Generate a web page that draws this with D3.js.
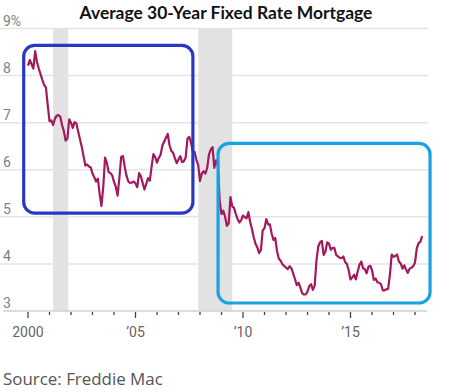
<!DOCTYPE html>
<html><head><meta charset="utf-8">
<script src="https://cdn.jsdelivr.net/npm/d3@7"></script>
<style>html,body{margin:0;padding:0;background:#fff;}svg{display:block;}</style>
</head><body><svg id="c" width="450" height="392"></svg>
<script>
const title = "Average 30-Year Fixed Rate Mortgage";
const source = "Source: Freddie Mac";
const startYear = 2000;
// Monthly average 30-year fixed rate (%), Jan 2000 – May 2018
const rates = [
 8.21,8.33,8.24,8.15,8.52,8.29,8.15,8.03,7.91,7.80,7.75,7.38,
 7.03,7.05,6.95,7.08,7.15,7.16,7.13,6.95,6.82,6.62,6.66,7.07,
 7.00,6.89,7.01,6.99,6.81,6.65,6.49,6.29,6.09,6.11,6.07,6.05,
 5.92,5.84,5.75,5.81,5.48,5.23,5.63,6.26,6.15,5.95,5.93,5.88,
 5.74,5.64,5.45,5.83,6.27,6.29,6.06,5.87,5.75,5.72,5.73,5.75,
 5.71,5.63,5.93,5.86,5.72,5.58,5.70,5.82,5.77,6.07,6.33,6.27,
 6.15,6.25,6.32,6.51,6.60,6.68,6.76,6.52,6.40,6.36,6.24,6.14,
 6.22,6.29,6.16,6.18,6.26,6.66,6.70,6.57,6.38,6.38,6.21,6.10,
 5.76,5.92,5.97,5.92,6.04,6.32,6.43,6.48,6.04,6.20,6.09,5.33,
 5.06,5.13,5.00,4.81,4.86,5.42,5.22,5.19,5.06,4.95,4.88,4.93,
 5.03,4.99,4.97,5.10,4.89,4.74,4.56,4.43,4.35,4.23,4.30,4.71,
 4.76,4.95,4.84,4.84,4.64,4.51,4.55,4.27,4.11,4.07,3.99,3.96,
 3.92,3.89,3.95,3.91,3.80,3.68,3.55,3.60,3.50,3.38,3.35,3.35,
 3.41,3.53,3.57,3.45,3.54,4.07,4.37,4.46,4.49,4.19,4.26,4.46,
 4.43,4.30,4.34,4.34,4.19,4.16,4.13,4.12,4.16,4.04,4.00,3.86,
 3.67,3.71,3.77,3.67,3.84,3.98,4.05,3.91,3.89,3.80,3.94,3.96,
 3.87,3.66,3.69,3.61,3.60,3.57,3.44,3.44,3.46,3.47,3.77,4.20,
 4.15,4.17,4.20,4.05,4.01,3.90,3.97,3.88,3.81,3.90,3.92,3.95,
 4.03,4.33,4.44,4.47,4.59
];
const yTicks = [3,4,5,6,7,8,9];
const yTickLabels = ["3","4","5","6","7","8","9%"];
const majorYears = [2000,2005,2010,2015];
const majorLabels = ["2000","\u201905","\u201910","\u201915"];
const minorYears = d3.range(2000,2019);
const recessions = [[2001.17,2001.87],[2007.92,2009.5]];
// highlight boxes: [x0, x1, yTop, yBottom] in data units
const highlightOld = [1999.8, 2007.67, 8.64, 5.08];
const highlightNew = [2008.84, 2018.7, 6.56, 3.17];

const svg = d3.select("#c");
const x = d3.scaleLinear().domain([2000,2018]).range([28,415]);
const y = d3.scaleLinear().domain([3,9]).range([311,28.5]);

// recession shading
svg.selectAll("rect.rec").data(recessions).join("rect")
  .attr("x",d=>x(d[0])).attr("width",d=>x(d[1])-x(d[0]))
  .attr("y",y(9)).attr("height",y(3)-y(9)).attr("fill","#e2e2e2");

// gridlines
svg.selectAll("line.grid").data(yTicks.filter(t=>t>3)).join("line")
  .attr("x1",0).attr("x2",428).attr("y1",d=>y(d)).attr("y2",d=>y(d))
  .attr("stroke","#e4e4e4").attr("stroke-width",1.5);
// baseline
svg.append("line").attr("x1",3).attr("x2",427).attr("y1",y(3)).attr("y2",y(3))
  .attr("stroke","#d0d0d0").attr("stroke-width",1.5);

// y labels
svg.selectAll("text.yl").data(yTicks).join("text")
  .attr("x",3).attr("y",d=>y(d)-3).text((d,i)=>yTickLabels[i])
  .attr("font-family","Roboto, sans-serif").attr("font-size",14).attr("fill","#808080");

// ticks
svg.selectAll("line.minor").data(minorYears).join("line")
  .attr("x1",d=>x(d)).attr("x2",d=>x(d)).attr("y1",y(3)+1).attr("y2",d=>majorYears.includes(d)?y(3)+7:y(3)+4)
  .attr("stroke","#444").attr("stroke-width",1.3);
svg.selectAll("text.xl").data(majorYears).join("text")
  .attr("x",d=>x(d)).attr("y",337).attr("text-anchor","middle")
  .text((d,i)=>majorLabels[i])
  .attr("font-family","Roboto, sans-serif").attr("font-size",14).attr("fill","#666");

// line
const pts = rates.map((v,i)=>[startYear+i/12, v]);
svg.append("path").datum(pts)
  .attr("d", d3.line().x(d=>x(d[0])).y(d=>y(d[1])))
  .attr("fill","none").attr("stroke","#a3195e").attr("stroke-width",2.2).attr("stroke-linejoin","round");

// highlight boxes
function box(b, color){
  svg.append("rect").attr("x",x(b[0])).attr("y",y(b[2]))
    .attr("width",x(b[1])-x(b[0])).attr("height",y(b[3])-y(b[2]))
    .attr("rx",11).attr("ry",11).attr("fill","none").attr("stroke",color).attr("stroke-width",3.2);
}
box(highlightOld,"#2a38c0");
box(highlightNew,"#18a2e2");

// title
const t = svg.append("text").attr("x",226).attr("y",19).attr("text-anchor","middle")
  .attr("font-family","Lato, 'Open Sans', sans-serif").attr("font-weight","bold").attr("font-size",15)
  .attr("fill","#111").text(title);
let w = t.node().getComputedTextLength(); t.attr("font-size",15*293/w);
const s = svg.append("text").attr("x",3).attr("y",385)
  .attr("font-family","'Open Sans', sans-serif").attr("font-size",14).attr("fill","#555").text(source);
w = s.node().getComputedTextLength(); s.attr("font-size",14*160/w);
</script></body></html>
